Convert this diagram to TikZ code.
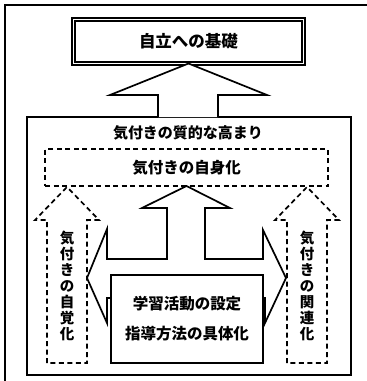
\documentclass[tikz,border=0pt]{standalone}
\usepackage{fontspec}
\newfontfamily\cjk{Noto Sans CJK JP}
\begin{document}
\begin{tikzpicture}[x=1pt,y=-1pt,line join=miter,
  every node/.style={outer sep=0pt},
  frameline/.style={line width=1.5pt},
  mainbox/.style={draw,line width=2.6pt,minimum width=324pt,minimum height=258pt},
  topbox/.style={draw,double,line width=1.2pt,double distance=1.8pt,minimum width=230pt,minimum height=44pt},
  blockarrow/.style={draw,line width=1.7pt,fill=white},
  dasharrow/.style={draw,line width=1.7pt,dash pattern=on 5pt off 3.5pt},
  dashbox/.style={draw,line width=1.7pt,dash pattern=on 5pt off 3.5pt,minimum width=283pt,minimum height=37pt},
  learnbox/.style={draw,line width=1.7pt,fill=white,minimum width=152pt,minimum height=88pt},
  lbl/.style={font=\cjk\bfseries\fontsize{15.5}{16}\selectfont,inner sep=0pt},
  boldlbl/.style={font=\cjk\bfseries\fontsize{15}{16}\selectfont,inner sep=0pt},
  vlbl/.style={font=\cjk\bfseries\fontsize{14.5}{16}\selectfont,inner sep=0pt,align=center}
]
\useasboundingbox (0,0) rectangle (367,381);
% outer frame (cropped)
\draw[frameline] (367,5) -- (5,5) -- (5,381);
% boxes
\node[topbox,font=\cjk\bfseries\fontsize{16.5}{18}\selectfont] (top) at (188.5,41.5) {自立への基礎};
\node[mainbox] (main) at (189,246) {};
% arrow from main box up to top box
\draw[blockarrow] (158,95 |- main.north) -- (158,95) -- (110,95) -- (top.south) -- (267,95) -- (218,95) -- (218,95 |- main.north);
\node[boldlbl] (title) at (188,133) {気付きの質的な高まり};
\node[dashbox] (self) at (186.5,167.5) {};
\node[lbl] (selftxt) at (self.center) {気付きの自身化};
% dashed side arrows
\draw[dasharrow] (47,363) -- (47,220) -- (35,220) -- (67,187) -- (99,220) -- (87,220) -- (87,363) -- cycle;
\draw[dasharrow] (287,363) -- (287,220) -- (275,220) -- (307,187) -- (339,220) -- (327,220) -- (327,363) -- cycle;
\node[vlbl] (aware) at (67,286) {気\\付\\き\\の\\自\\覚\\化};
\node[vlbl] (relate) at (307,286) {気\\付\\き\\の\\関\\連\\化};
% three-way block arrow
\draw[blockarrow] (107,298) -- (107,323) -- (87,278) -- (107,229) -- (107,259) -- (167,259) -- (167,208) -- (142,208) -- (self.south) -- (230,208) -- (205,208) -- (205,259) -- (263,259) -- (263,230) -- (286,278) -- (265,323) -- (265,298) -- cycle;
% learning box
\node[learnbox,align=center,inner sep=0pt,font=\cjk\bfseries\fontsize{15.5}{30}\selectfont] (learn) at (187,319) {学習活動の設定\\指導方法の具体化};
\end{tikzpicture}
\end{document}
